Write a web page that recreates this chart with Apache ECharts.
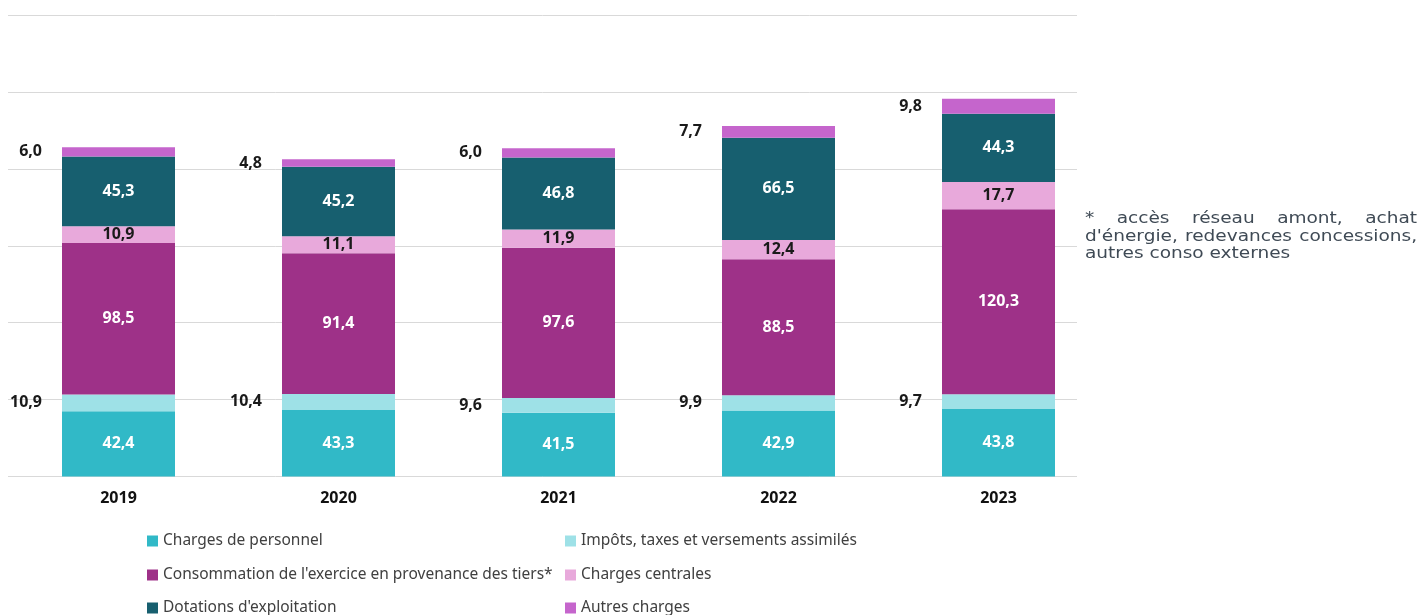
<!DOCTYPE html>
<html>
<head>
<meta charset="utf-8">
<script src="https://cdn.jsdelivr.net/npm/echarts@6/dist/echarts.min.js"></script>
<style>
  html, body { margin: 0; padding: 0; background: #ffffff; }
  #chart { position: absolute; left: 0; top: 0; width: 1420px; height: 615px; }
  #note {
    position: absolute; left: 1085px; top: 209px; width: 287px;
    font-family: "DejaVu Sans", sans-serif; font-size: 16px; line-height: 17.7px;
    color: #3f4a55; transform: scaleX(1.157); transform-origin: left top;
  }
  #note .j2 { text-align: justify; text-align-last: justify; white-space: nowrap; }
  #note .l { text-align: left; white-space: nowrap; }
</style>
</head>
<body>
<div id="chart"></div>
<div id="note">
  <div class="j2">* accès réseau amont, achat</div>
  <div class="j2">d'énergie, redevances concessions,</div>
  <div class="l">autres conso externes</div>
</div>
<script>
const categories = ['2019', '2020', '2021', '2022', '2023'];
const seriesNames = [
  'Charges de personnel',
  'Impôts, taxes et versements assimilés',
  "Consommation de l'exercice en provenance des tiers*",
  'Charges centrales',
  "Dotations d'exploitation",
  'Autres charges'
];
const personnel    = [42.4, 43.3, 41.5, 42.9, 43.8];
const impots       = [10.9, 10.4, 9.6, 9.9, 9.7];
const consommation = [98.5, 91.4, 97.6, 88.5, 120.3];
const centrales    = [10.9, 11.1, 11.9, 12.4, 17.7];
const dotations    = [45.3, 45.2, 46.8, 66.5, 44.3];
const autres       = [6.0, 4.8, 6.0, 7.7, 9.8];

const colors = ['#31b9c7', '#9ee1e7', '#9e3188', '#e8a9db', '#175f6f', '#c565cc'];
const values = [personnel, impots, consommation, centrales, dotations, autres];

const fmt = p => Number(p.value).toFixed(1).replace('.', ',');
const FONT = '"Noto Sans", sans-serif';

function labelFor(i) {
  const base = { show: true, formatter: fmt, fontFamily: FONT, fontSize: 16, fontWeight: 'bold' };
  if (i === 1 || i === 5) {
    return Object.assign(base, { position: 'left', distance: 20, color: '#1a1a1a' });
  }
  if (i === 3) {
    return Object.assign(base, { position: 'inside', color: '#1a1a1a' });
  }
  return Object.assign(base, { position: 'inside', color: '#ffffff' });
}

const series = seriesNames.map((name, i) => ({
  name: name,
  type: 'bar',
  stack: 'total',
  xAxisIndex: 0,
  yAxisIndex: 0,
  barWidth: 113,
  data: values[i],
  itemStyle: { color: colors[i] },
  label: labelFor(i),
  emphasis: { disabled: true },
  z: 3
}));

// legend slots: column x and row y (centre) for each series, in seriesNames order
const legendLeft = [147, 565, 147, 565, 147, 565];
const legendTop  = [533, 533, 567, 567, 600, 600];
const legends = seriesNames.map((name, i) => ({
  orient: 'horizontal',
  left: legendLeft[i],
  top: legendTop[i],
  padding: 0,
  itemWidth: 11,
  itemHeight: 11,
  icon: 'rect',
  selectedMode: false,
  data: [name],
  textStyle: { fontFamily: FONT, fontSize: 15.5, color: '#404040', lineHeight: 14 }
}));

const chart = echarts.init(document.getElementById('chart'), null, { renderer: 'canvas' });
chart.setOption({
  animation: false,
  backgroundColor: '#ffffff',
  grid: [
    { left: 8.5, top: 15, width: 1100, height: 461.5 },
    { left: 8, top: 15, width: 1069, height: 461.5 }
  ],
  xAxis: [
    {
      type: 'category', gridIndex: 0, data: categories,
      axisLine: { show: false }, axisTick: { show: false },
      axisLabel: { margin: 14, fontFamily: FONT, fontSize: 16, fontWeight: 'bold', color: '#111111' }
    },
    { type: 'value', gridIndex: 1, min: 0, max: 1, show: false }
  ],
  yAxis: [
    { type: 'value', gridIndex: 0, min: 0, max: 300, interval: 50, show: false },
    {
      type: 'value', gridIndex: 1, min: 0, max: 300, interval: 50,
      axisLine: { show: false }, axisTick: { show: false }, axisLabel: { show: false },
      splitLine: { show: true, lineStyle: { color: '#d9d9d9', width: 1 } }
    }
  ],
  legend: legends,
  series: series
});
</script>
</body>
</html>
